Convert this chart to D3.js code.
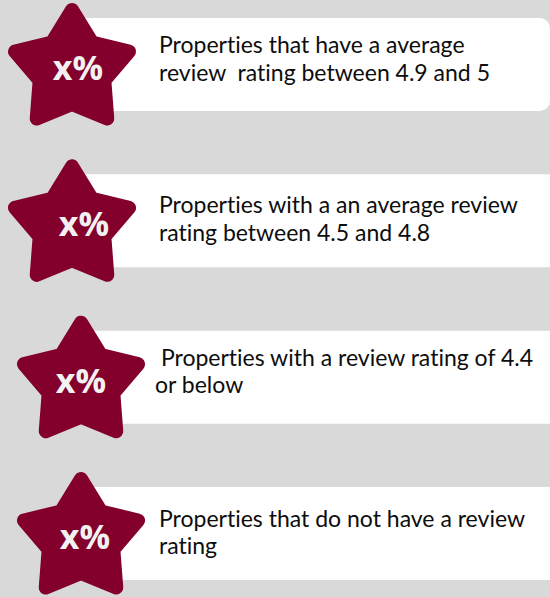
<!DOCTYPE html>
<html>
<head>
<meta charset="utf-8">
<script src="https://cdn.jsdelivr.net/npm/d3@7"></script>
<style>
  html, body { margin: 0; padding: 0; background: #d9d9d9; }
  svg { display: block; }
  .desc { font-family: Lato, "Open Sans", sans-serif; fill: #0d0d0d; white-space: pre; font-variant-ligatures: none; }
  .pct { font-family: "Open Sans", Lato, sans-serif; font-weight: 700; fill: #f2f2f2; }
</style>
</head>
<body>
<svg id="chart"></svg>
<script>
// Data
const categories = ["4.9-5", "4.5-4.8", "<=4.4", "none"];
const values = ["x%", "x%", "x%", "x%"];
const descriptions = [
  ["Properties that have a average", "review  rating between 4.9 and 5"],
  ["Properties with a an average review", "rating between 4.5 and 4.8"],
  [" Properties with a review rating of 4.4", "or below"],
  ["Properties that do not have a review", "rating"]
];

// Layout
const width = 550, height = 597;
const starX = [72, 72, 81, 81];
const pctX = [78, 84, 81, 85];
const textX = [159, 159, 155, 159];
const textDy = [35, 39, 35, 40];
const lineHeight = 27.5;

const svg = d3.select("#chart")
  .attr("width", width)
  .attr("height", height);

svg.append("rect")
  .attr("width", width)
  .attr("height", height)
  .attr("fill", "#d9d9d9");

// Rows
const y = d3.scaleBand()
  .domain(categories)
  .range([18, 580])
  .paddingInner(0.405)
  .paddingOuter(0);

const rows = svg.selectAll(".row")
  .data(categories)
  .enter()
  .append("g")
  .attr("class", "row")
  .attr("transform", d => `translate(0,${y(d)})`);

rows.append("rect")
  .attr("x", 70)
  .attr("y", 0)
  .attr("width", (d, i) => i === 0 ? 480 : 500)
  .attr("height", y.bandwidth())
  .attr("rx", 10)
  .attr("fill", "#ffffff");

// Star shape
const outerR = 60, innerR = 34;
const starPts = d3.range(10).map(k => {
  const a = k * Math.PI / 5;
  const r = k % 2 === 0 ? outerR : innerR;
  return [a, r];
});
const star = d3.lineRadial()
  .angle(d => d[0])
  .radius(d => d[1])
  .curve(d3.curveLinearClosed);

rows.append("path")
  .attr("d", star(starPts))
  .attr("transform", (d, i) => `translate(${starX[i]},${52})`)
  .attr("fill", "#82002b")
  .attr("stroke", "#82002b")
  .attr("stroke-width", 14)
  .attr("stroke-linejoin", "round");

rows.append("text")
  .attr("class", "pct")
  .attr("x", (d, i) => pctX[i])
  .attr("y", 62)
  .attr("text-anchor", "middle")
  .attr("font-size", 34)
  .text((d, i) => values[i]);

rows.each(function(d, i) {
  const t = d3.select(this).append("text")
    .attr("class", "desc")
    .attr("font-size", 23);
  t.selectAll("tspan")
    .data(descriptions[i])
    .enter()
    .append("tspan")
    .attr("x", textX[i])
    .attr("y", (line, j) => textDy[i] + j * lineHeight)
    .text(line => line);
});
</script>
</body>
</html>
